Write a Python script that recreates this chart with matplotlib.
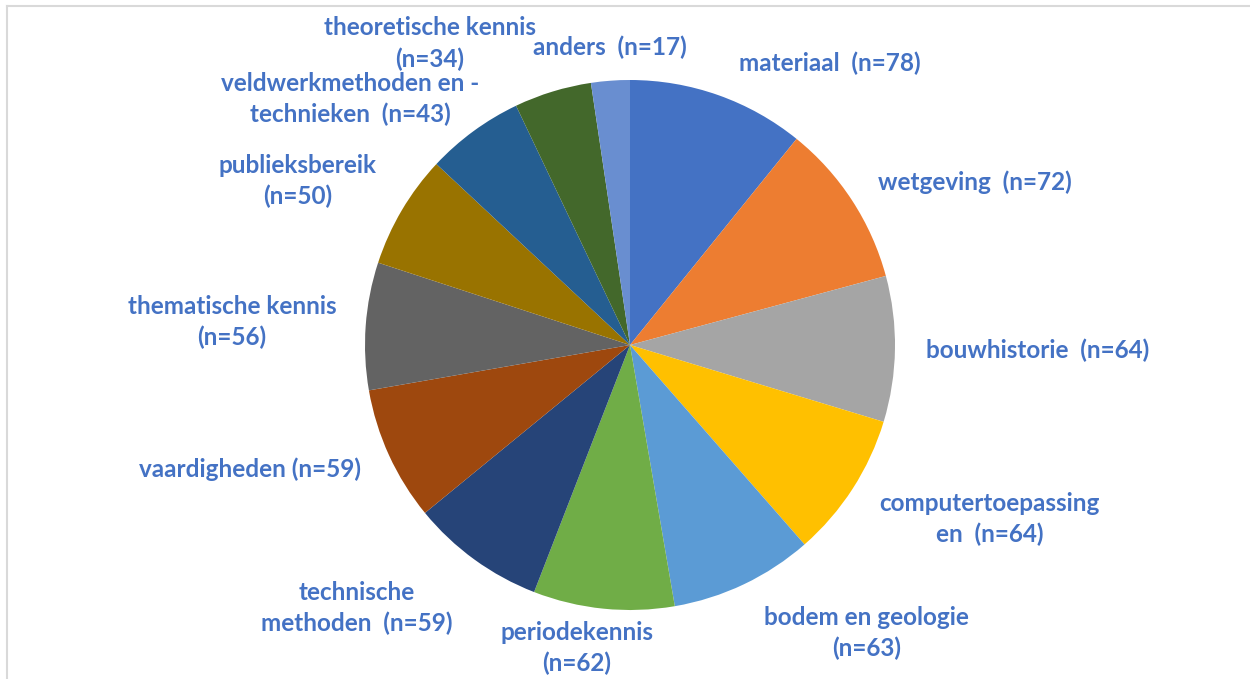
import matplotlib
matplotlib.use("Agg")
import matplotlib.pyplot as plt
from matplotlib.lines import Line2D

categories = [
    "materiaal  (n=78)",
    "wetgeving  (n=72)",
    "bouwhistorie  (n=64)",
    "computertoepassing\nen  (n=64)",
    "bodem en geologie\n(n=63)",
    "periodekennis\n(n=62)",
    "technische\nmethoden  (n=59)",
    "vaardigheden (n=59)",
    "thematische kennis\n(n=56)",
    "publieksbereik\n(n=50)",
    "veldwerkmethoden en -\ntechnieken  (n=43)",
    "theoretische kennis\n(n=34)",
    "anders  (n=17)",
]
values = [78, 72, 64, 64, 63, 62, 59, 59, 56, 50, 43, 34, 17]
colors = ["#4472C4", "#ED7D31", "#A5A5A5", "#FFC000", "#5B9BD5", "#70AD47",
          "#264478", "#9E480E", "#636363", "#997300", "#255E91", "#43682B",
          "#698ED0"]

# label centres in units of pie radius (layout)
label_pos = [
    (0.755, 1.064), (1.302, 0.615), (1.540, -0.019), (1.358, -0.657),
    (0.894, -1.087), (-0.200, -1.143), (-1.030, -0.992), (-1.434, -0.468),
    (-1.502, 0.087), (-1.253, 0.619), (-1.057, 0.928), (-0.755, 1.138),
    (-0.075, 1.125),
]

W, H = 1250, 679
fig = plt.figure(figsize=(W / 100, H / 100), dpi=100)
cx, cy, r = 630, 345, 265
ax = fig.add_axes([(cx - r) / W, (H - cy - r) / H, 2 * r / W, 2 * r / H])
ax.pie(values, colors=colors, startangle=90, counterclock=False, radius=1,
       wedgeprops=dict(linewidth=0))
ax.set_xlim(-1, 1)
ax.set_ylim(-1, 1)
ax.set_aspect("auto")
ax.axis("off")

for lab, (x, y) in zip(categories, label_pos):
    ax.text(x, y, lab, ha="center", va="center", fontsize=17.5,
            fontweight="bold", color="#4472C4", family="Lato",
            linespacing=1.42, clip_on=False)

# chart area border (left and top visible)
fig.add_artist(Line2D([6.5 / W, 6.5 / W], [0, 1 - 5.5 / H], transform=fig.transFigure,
                      color="#D9D9D9", lw=1.5))
fig.add_artist(Line2D([6.5 / W, 1], [1 - 5.5 / H, 1 - 5.5 / H], transform=fig.transFigure,
                      color="#D9D9D9", lw=1.5))

fig.savefig("out.png", dpi=100, facecolor="white")
